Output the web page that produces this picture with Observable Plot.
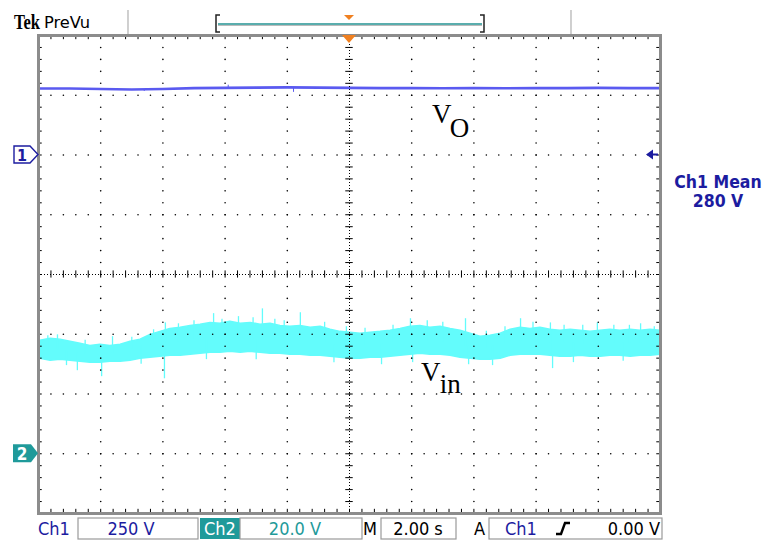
<!DOCTYPE html>
<html><head><meta charset="utf-8">
<script src="https://cdn.jsdelivr.net/npm/d3@7"></script>
<script src="https://cdn.jsdelivr.net/npm/@observablehq/plot@0.6"></script>
<style>
body{margin:0;background:#fff}
svg{display:block}
</style>
</head><body><div id="chart"></div>
<script>
// ---- scope settings ----
const ch1VoltsPerDiv = 250;
const ch2VoltsPerDiv = 20;
const secondsPerDiv = 2;
const ch1RefDiv = 2;    // Ch1 ground marker position (divisions from centre)
const ch2RefDiv = -3;   // Ch2 ground marker position
const ch1MeanText = "280 V";

// ---- Ch1 : output voltage Vo (V) ----
const voTime  = [0, 1, 2, 3, 4, 5, 6, 7, 8, 9, 10, 11, 12, 13, 14, 15, 16, 17, 18, 19, 20];
const voVolts = [278, 278, 276, 274, 276, 280, 281, 282, 283, 282, 281, 280, 280, 279, 280, 279, 280, 280, 281, 280, 280];
const voSpikeTime  = [3.4, 6.1, 8.2];
const voSpikeVolts = [266, 292, 262];

// ---- Ch2 : input voltage Vin (V), noise envelope ----
const vinTime = [0.06, 0.39, 0.71, 1.03, 1.35, 1.67, 1.99, 2.31, 2.64, 2.96, 3.28, 3.6, 3.92, 4.24, 4.57, 4.89, 5.21, 5.53, 5.85, 6.17, 6.5, 6.82, 7.14, 7.46, 7.78, 8.1, 8.42, 8.75, 9.07, 9.39, 9.71, 10.03, 10.35, 10.68, 11.0, 11.32, 11.64, 11.96, 12.28, 12.6, 12.93, 13.25, 13.57, 13.89, 14.21, 14.53, 14.86, 15.18, 15.5, 15.82, 16.14, 16.46, 16.78, 17.11, 17.43, 17.75, 18.07, 18.39, 18.71, 19.04, 19.36, 19.68, 20.0];
const vinHigh = [37.8, 38.5, 38.2, 37.5, 36.8, 36.1, 36.5, 36.1, 36.5, 37.5, 38.2, 39.8, 40.8, 41.8, 42.2, 42.8, 43.2, 43.8, 43.5, 44.2, 43.5, 43.8, 43.2, 43.5, 42.8, 42.5, 42.8, 42.2, 42.5, 41.5, 40.8, 40.5, 40.2, 40.5, 40.8, 41.2, 41.8, 42.5, 42.8, 42.2, 42.5, 41.8, 41.2, 40.2, 39.2, 39.5, 40.2, 41.5, 42.2, 41.8, 42.2, 41.5, 41.2, 41.5, 41.2, 40.8, 41.2, 41.5, 41.2, 41.5, 41.2, 41.5, 41.2];
const vinLow  = [31.8, 31.1, 31.5, 31.1, 30.8, 30.5, 30.5, 30.8, 30.8, 31.1, 31.8, 32.1, 32.5, 32.8, 32.8, 33.1, 33.5, 33.8, 33.8, 34.1, 33.8, 34.1, 33.8, 33.5, 33.5, 33.1, 33.1, 32.8, 32.8, 32.5, 32.1, 31.8, 31.8, 32.1, 32.1, 32.5, 32.8, 33.1, 33.5, 33.1, 33.1, 32.8, 32.1, 31.8, 31.5, 31.5, 31.8, 32.8, 33.1, 33.1, 33.1, 32.8, 32.5, 32.5, 32.8, 32.5, 32.5, 32.8, 32.8, 32.5, 32.8, 32.8, 33.1];
const vinSpikeTime  = [0.61, 2.38, 4.08, 5.63, 6.43, 7.2, 8.42, 11.96, 13.73, 15.5, 16.46, 17.97, 19.36, 1.25, 2.03, 4.05, 11.03, 12.03, 13.83, 16.53,
  0.3, 1.5, 3.0, 3.7, 4.5, 5.0, 5.9, 6.9, 7.6, 7.9, 9.2, 9.9, 10.5, 11.4, 12.5, 13.0, 14.4, 15.0, 15.9, 16.9, 17.5, 18.5, 19.0, 19.8,
  0.9, 3.3, 5.4, 7.0, 9.5, 14.6, 17.2, 18.8];
const vinSpikeVolts = [39.8, 39.2, 43.8, 46.9, 45.9, 48.5, 47.2, 45.2, 45.2, 45.2, 43.8, 43.8, 43.5, 27.8, 25.8, 25.1, 29.8, 30.5, 29.8, 28.5,
  39.5, 38.0, 39.0, 41.5, 43.5, 44.5, 45.0, 45.5, 45.0, 44.5, 44.0, 42.5, 42.0, 43.0, 44.5, 44.0, 41.0, 42.5, 44.0, 43.0, 43.0, 43.0, 43.0, 42.5,
  29.5, 30.0, 31.5, 31.5, 30.5, 29.5, 30.5, 31.0];

// ---- graticule ----
const xMajor = d3.range(0, 20.001, 2);
const xMinor = d3.range(0, 20.001, 0.4);
const yMajor = d3.range(-4, 4.001, 1);
const yMinor = d3.range(-4, 4.001, 0.2);

const ch1Div = v => ch1RefDiv + v / ch1VoltsPerDiv;
const ch2Div = v => ch2RefDiv + v / ch2VoltsPerDiv;

const voRows = voTime.map((t, i) => ({t, y: ch1Div(voVolts[i])}));
const voSpikes = voSpikeTime.map((t, i) => ({t, y1: ch1Div(voVolts[Math.round(t)]), y2: ch1Div(voSpikeVolts[i])}));
const vinRows = vinTime.map((t, i) => ({t, lo: ch2Div(vinLow[i]), hi: ch2Div(vinHigh[i])}));
const vinSpikes = vinSpikeTime.map((t, i) => {
  const j = Math.min(vinTime.length - 1, d3.bisectLeft(vinTime, t));
  return {t, y1: ch2Div((vinLow[j] + vinHigh[j]) / 2), y2: ch2Div(vinSpikeVolts[i])};
});

const innerV = xMajor.filter(x => x !== 0 && x !== 10 && x !== 20);
const innerH = yMajor.filter(y => y !== -4 && y !== 0 && y !== 4);
const gridDots = [
  ...innerV.flatMap(x => yMinor.map(y => ({x, y}))),
  ...innerH.flatMap(y => xMinor.map(x => ({x, y})))
];

const VO_COLOR = "#5a5af0";
const VIN_COLOR = "#63fcfc";
const BLUE_TXT = "#1c1ca0";
const TEAL = "#1f9a9a";
const ORANGE = "#f08020";
const scopeFont = "'DejaVu Sans Condensed', 'Liberation Sans Narrow', 'DejaVu Sans', sans-serif";

const plot = Plot.plot({
  width: 771, height: 541,
  marginLeft: 38, marginRight: 111, marginTop: 35, marginBottom: 28,
  x: {domain: [0, 10 * secondsPerDiv], axis: null},
  y: {domain: [-4, 4], axis: null},
  style: {background: "#fff"},
  marks: [
    // traces
    Plot.areaY(vinRows, {x: "t", y1: "lo", y2: "hi", fill: VIN_COLOR, stroke: VIN_COLOR, strokeWidth: 1.5}),
    Plot.ruleX(vinSpikes, {x: "t", y1: "y1", y2: "y2", stroke: VIN_COLOR, strokeWidth: 1.3}),
    Plot.line(voRows, {x: "t", y: "y", stroke: VO_COLOR, strokeWidth: 2.6}),
    Plot.ruleX(voSpikes, {x: "t", y1: "y1", y2: "y2", stroke: VO_COLOR, strokeWidth: 1}),
    // graticule
    Plot.dot(gridDots, {x: "x", y: "y", r: 0.8, fill: "#000", stroke: null}),
    Plot.ruleX([10], {stroke: "#000", strokeWidth: 1, strokeDasharray: "1,2"}),
    Plot.ruleY([0], {stroke: "#000", strokeWidth: 1, strokeDasharray: "1,2"}),
    Plot.ruleY(yMinor, {x1: 9.88, x2: 10.12, stroke: "#000", strokeWidth: 1}),
    Plot.ruleX(xMinor, {y1: -0.06, y2: 0.06, stroke: "#000", strokeWidth: 1}),
    Plot.ruleX(xMinor, {y1: 4, y2: 3.93, stroke: "#000", strokeWidth: 1}),
    Plot.ruleX(xMinor, {y1: -4, y2: -3.93, stroke: "#000", strokeWidth: 1}),
    Plot.ruleY(yMinor, {x1: 0, x2: 0.12, stroke: "#000", strokeWidth: 1}),
    Plot.ruleY(yMinor, {x1: 19.88, x2: 20, stroke: "#000", strokeWidth: 1}),
    Plot.frame({stroke: "#8c8c8c", strokeWidth: 3}),
    // trace labels
    Plot.text(["V"], {x: 12.65, y: 2.53, text: d => d, fontSize: 27, fontFamily: "'Liberation Serif', serif", textAnchor: "start", lineAnchor: "bottom", fill: "#000"}),
    Plot.text(["O"], {x: 13.22, y: 2.3, text: d => d, fontSize: 27, fontFamily: "'Liberation Serif', serif", textAnchor: "start", lineAnchor: "bottom", fill: "#000"}),
    Plot.text(["V"], {x: 12.3, y: -1.78, text: d => d, fontSize: 27, fontFamily: "'Liberation Serif', serif", textAnchor: "start", lineAnchor: "bottom", fill: "#000"}),
    Plot.text(["in"], {x: 12.9, y: -1.99, text: d => d, fontSize: 27, fontFamily: "'Liberation Serif', serif", textAnchor: "start", lineAnchor: "bottom", fill: "#000"})
  ]
});

document.getElementById("chart").append(plot);

// ---- scope decorations placed with the plot's own scales ----
const sx = plot.scale("x"), sy = plot.scale("y");
const X = v => sx.apply(v), Y = v => sy.apply(v);
const svg = d3.select(plot);
const g = svg.append("g").attr("text-anchor", "start");
const fLeft = X(0), fRight = X(20), fTop = Y(4), cx = X(10);

// channel 1 marker
const y1 = Y(ch1RefDiv);
g.append("path").attr("d", `M${fLeft-24},${y1-8.5}H${fLeft-8}L${fLeft},${y1}L${fLeft-8},${y1+8.5}H${fLeft-24}Z`)
  .attr("fill", "#fff").attr("stroke", BLUE_TXT).attr("stroke-width", 1.4);
g.append("text").attr("x", fLeft-16).attr("y", y1+6).attr("text-anchor", "middle")
  .attr("font-family", scopeFont).attr("font-weight", "bold").attr("font-size", 16).attr("fill", BLUE_TXT).text("1");
// channel 2 marker
const y2 = Y(ch2RefDiv);
g.append("path").attr("d", `M${fLeft-25},${y2-9}H${fLeft-7}L${fLeft},${y2}L${fLeft-7},${y2+9}H${fLeft-25}Z`)
  .attr("fill", TEAL);
g.append("text").attr("x", fLeft-16).attr("y", y2+6.5).attr("text-anchor", "middle")
  .attr("font-family", scopeFont).attr("font-weight", "bold").attr("font-size", 17).attr("fill", "#fff").text("2");
// trigger level arrow (right)
g.append("path").attr("d", `M${fRight-14},${y1}L${fRight-7},${y1-5}V${y1+5}Z`).attr("fill", BLUE_TXT);
g.append("line").attr("x1", fRight-8).attr("x2", fRight-2).attr("y1", y1).attr("y2", y1).attr("stroke", BLUE_TXT).attr("stroke-width", 2);
// trigger position marker (top)
g.append("path").attr("d", `M${cx-7},${fTop}H${cx+7}L${cx},${fTop+8}Z`).attr("fill", ORANGE);

// Ch1 mean readout
g.append("text").attr("x", 718).attr("y", Y(2) + 33).attr("text-anchor", "middle")
  .attr("font-family", scopeFont).attr("font-size", 17.5).attr("font-weight", "bold").attr("fill", BLUE_TXT).text("Ch1 Mean");
g.append("text").attr("x", 718).attr("y", Y(2) + 52).attr("text-anchor", "middle")
  .attr("font-family", scopeFont).attr("font-size", 17.5).attr("font-weight", "bold").attr("fill", BLUE_TXT).text(ch1MeanText);

// header
g.append("text").attr("x", 14).attr("y", 29).attr("text-anchor", "start").attr("font-family", "'Liberation Serif', serif").attr("font-weight", "bold")
  .attr("font-size", 21).attr("textLength", 26).attr("lengthAdjust", "spacingAndGlyphs").attr("fill", "#000").text("Tek");
g.append("text").attr("x", 44).attr("y", 28).attr("text-anchor", "start").attr("font-family", scopeFont).attr("font-size", 16)
  .attr("textLength", 46).attr("lengthAdjust", "spacingAndGlyphs").attr("fill", "#000").text("PreVu");
[128, 571].forEach(x => g.append("line").attr("x1", x).attr("x2", x).attr("y1", 10).attr("y2", 34).attr("stroke", "#b0b0b0").attr("stroke-width", 1.2));
g.append("line").attr("x1", 218).attr("x2", 482).attr("y1", 24).attr("y2", 24).attr("stroke", "#5aadad").attr("stroke-width", 2);
g.append("line").attr("x1", 218).attr("x2", 482).attr("y1", 25.5).attr("y2", 25.5).attr("stroke", "#bbb").attr("stroke-width", 1);
g.append("path").attr("d", "M220,15H216V32H220").attr("fill", "none").attr("stroke", "#222").attr("stroke-width", 1.5);
g.append("path").attr("d", "M480,15H484V32H480").attr("fill", "none").attr("stroke", "#222").attr("stroke-width", 1.5);
g.append("path").attr("d", `M${cx-5},15H${cx+5}L${cx},20Z`).attr("fill", ORANGE);

// footer status bar
const fy = 535;
const ftext = (x, txt, fill, anchor = "start") => g.append("text").attr("x", x).attr("y", fy).attr("text-anchor", anchor)
  .attr("font-family", scopeFont).attr("font-size", 18).attr("fill", fill).text(txt);
const fbox = (x0, x1) => g.append("rect").attr("x", x0).attr("y", 518).attr("width", x1 - x0).attr("height", 21)
  .attr("fill", "none").attr("stroke", "#9a9a9a").attr("stroke-width", 1.2);
ftext(38, "Ch1", BLUE_TXT);
fbox(78, 198); ftext(131, `${ch1VoltsPerDiv} V`, BLUE_TXT, "middle");
g.append("rect").attr("x", 200).attr("y", 518).attr("width", 40).attr("height", 21).attr("fill", TEAL);
ftext(220, "Ch2", "#fff", "middle");
fbox(240, 362); ftext(295, `${ch2VoltsPerDiv.toFixed(1)} V`, TEAL, "middle");
ftext(363, "M", "#000");
fbox(381, 456); ftext(418, `${secondsPerDiv.toFixed(2)} s`, "#000", "middle");
ftext(474, "A", "#000");
fbox(489, 662); ftext(505, "Ch1", BLUE_TXT);
g.append("path").attr("d", "M556,534H561L565,523H570").attr("fill", "none").attr("stroke", "#000").attr("stroke-width", 2.4);
ftext(660, "0.00 V", "#000", "end");
</script>
</body></html>
